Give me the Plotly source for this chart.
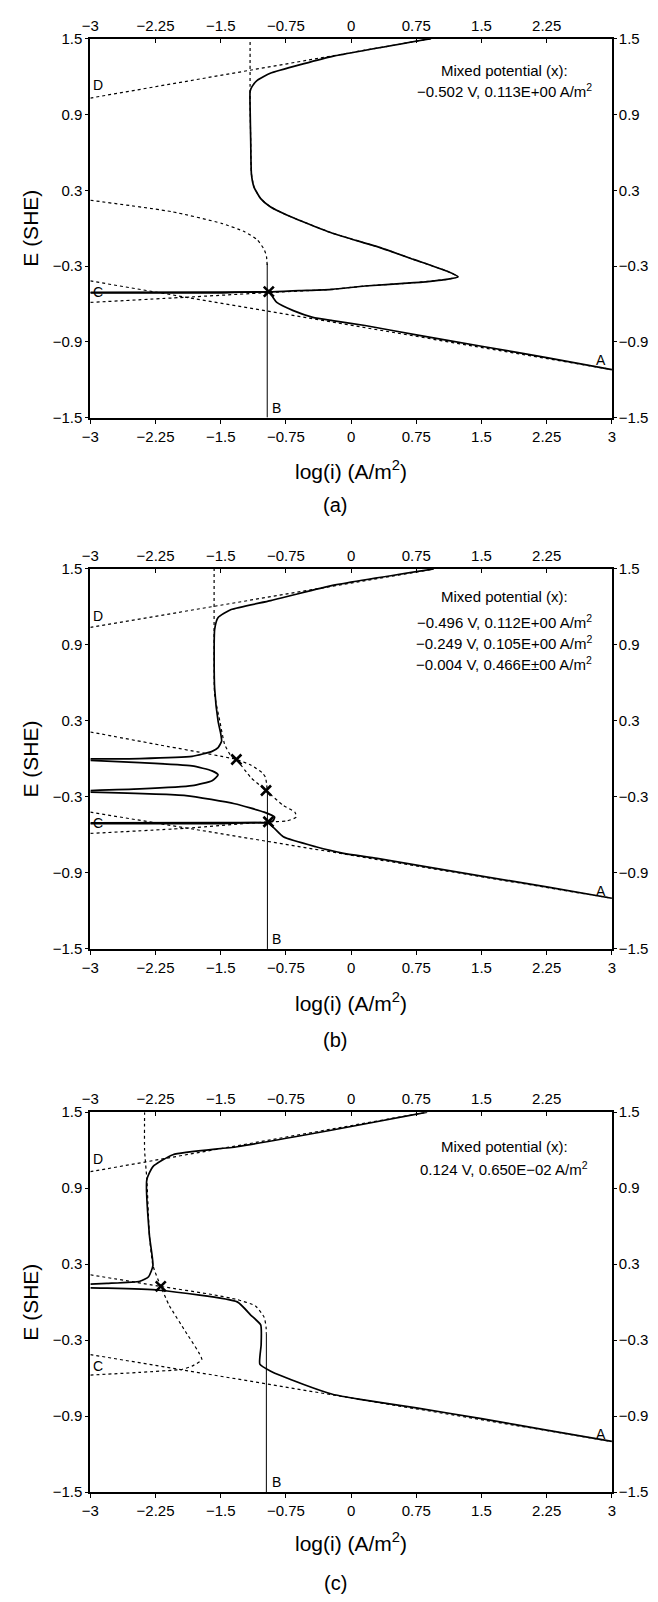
import plotly.graph_objects as go

W, H = 658, 1602

# ---------------- tick labels ----------------
x_tickvals = [-3, -2.25, -1.5, -0.75, 0, 0.75, 1.5, 2.25, 3]
x_ticktext = ["−3", "−2.25", "−1.5", "−0.75", "0", "0.75", "1.5", "2.25", "3"]
top_tickvals = [-3, -2.25, -1.5, -0.75, 0, 0.75, 1.5, 2.25]
top_ticktext = ["−3", "−2.25", "−1.5", "−0.75", "0", "0.75", "1.5", "2.25"]
y_tickvals = [-1.5, -0.9, -0.3, 0.3, 0.9, 1.5]
y_ticktext = ["−1.5", "−0.9", "−0.3", "0.3", "0.9", "1.5"]

captions = ["(a)", "(b)", "(c)"]

# ---------------- line A (cathodic Tafel), line D ----------------
a_A_x = [-3, 3];      a_A_y = [-0.418, -1.12]
b_A_x = [-3, 3];      b_A_y = [-0.42, -1.10]
c_A_x = [-3, 3];      c_A_y = [-0.414, -1.10]
a_D_x = [-3, 0.92];   a_D_y = [1.03, 1.5]
b_D_x = [-3, 0.95];   b_D_y = [1.039, 1.5]
c_D_x = [-3, 0.875];  c_D_y = [1.03, 1.5]

# ---------------- curve B (Tafel part, then limiting current) ----------------
a_B_x = [-3, -2.06, -1.49, -1.23, -1.08, -1.0, -0.974, -0.965]
a_B_y = [0.221, 0.13, 0.038, -0.027, -0.092, -0.17, -0.223, -0.3]
a_Blim_x = [-0.965, -0.965]; a_Blim_y = [-0.28, -1.5]

b_B_x = [-3, -2.2, -1.32, -1.15, -1.02, -0.985, -0.972, -0.963]
b_B_y = [0.213, 0.11, -0.004, -0.05, -0.11, -0.146, -0.2, -0.26]
b_Blim_x = [-0.963, -0.963]; b_Blim_y = [-0.26, -1.5]

c_B_x = [-3, -2.19, -1.6, -1.31, -1.1, -1.0, -0.978, -0.975]
c_B_y = [0.216, 0.124, 0.06, 0.02, -0.03, -0.12, -0.2, -0.25]
c_Blim_x = [-0.975, -0.975]; c_Blim_y = [-0.25, -1.5]

# ---------------- curve C (metal anodic, active-passive) ----------------
a_C_x = [-3, -1.9, -0.947, -0.214, 0.16, 0.725, 1.10, 1.23, 1.10, 0.725, 0.35, -0.026,
         -0.214, -0.553, -0.74, -0.93, -1.04, -1.117, -1.147, -1.155, -1.162, -1.162]
a_C_y = [-0.588, -0.547, -0.51, -0.484, -0.458, -0.432, -0.405, -0.385, -0.34, -0.249, -0.158, -0.08,
         -0.04, 0.051, 0.104, 0.169, 0.234, 0.325, 0.43, 0.69, 0.952, 1.5]

b_C_x = [-3, -1.9, -0.951, -0.74, -0.63, -0.647, -0.78, -0.979, -1.155, -1.32, -1.38,
         -1.455, -1.51, -1.57, -1.576, -1.576]
b_C_y = [-0.588, -0.547, -0.496, -0.49, -0.459, -0.42, -0.367, -0.249, -0.146, -0.004, 0.023,
         0.115, 0.297, 0.508, 0.8, 1.5]

c_C_x = [-3, -2.44, -1.94, -1.83, -1.718, -1.906, -2.095, -2.19, -2.28, -2.32, -2.35, -2.376, -2.376]
c_C_y = [-0.576, -0.555, -0.53, -0.505, -0.453, -0.232, -0.023, 0.124, 0.289, 0.523, 0.969, 1.2, 1.5]

# ---------------- total (net) polarization curve, solid ----------------
a_T1_x = [0.92, -0.214, -0.553, -0.93, -1.08, -1.14, -1.162, -1.162, -1.155, -1.147, -1.117, -1.04,
          -0.93, -0.74, -0.553, -0.214, -0.026, 0.35, 0.725, 1.10, 1.23, 1.10, 0.725, 0.16, -0.214,
          -0.6, -0.947, -1.5, -3]
a_T1_y = [1.5, 1.36, 1.30, 1.226, 1.17, 1.12, 1.083, 0.952, 0.69, 0.43, 0.325, 0.234,
          0.169, 0.104, 0.051, -0.04, -0.08, -0.158, -0.249, -0.34, -0.385, -0.405, -0.432, -0.458, -0.484,
          -0.495, -0.505, -0.507, -0.508]
a_T2_x = [-3, -1.5, -0.947, -0.855, -0.665, -0.44, -0.214, 0.16, 0.75, 1.5, 2.25, 3]
a_T2_y = [-0.512, -0.512, -0.51, -0.588, -0.653, -0.706, -0.732, -0.771, -0.845, -0.935, -1.025, -1.12]

b_T1_x = [0.95, -0.237, -0.925, -1.38, -1.53, -1.57, -1.576, -1.57, -1.53, -1.50, -1.49, -1.53,
          -1.6, -1.83, -2.43, -3]
b_T1_y = [1.5, 1.367, 1.25, 1.18, 1.117, 1.024, 0.8, 0.555, 0.297, 0.2, 0.14, 0.09,
          0.06, 0.02, 0.003, 0.0]
b_T2_x = [-3, -2.43, -1.83, -1.6, -1.53, -1.6, -1.83, -2.43, -3]
b_T2_y = [-0.012, -0.029, -0.055, -0.094, -0.125, -0.172, -0.211, -0.237, -0.25]
b_T3_x = [-3, -1.9, -1.34, -1.0, -0.88, -0.9, -0.951, -1.5, -3]
b_T3_y = [-0.262, -0.289, -0.354, -0.42, -0.459, -0.49, -0.5, -0.503, -0.505]
b_T4_x = [-3, -1.5, -0.951, -0.78, -0.406, -0.1, 0.3, 1.5, 2.25, 3]
b_T4_y = [-0.51, -0.51, -0.51, -0.615, -0.693, -0.743, -0.785, -0.925, -1.01, -1.10]

c_T1_x = [0.875, -0.214, -1.31, -2.05, -2.28, -2.35, -2.32, -2.28, -2.33, -2.43, -2.81, -3]
c_T1_y = [1.5, 1.359, 1.227, 1.164, 1.07, 0.969, 0.523, 0.289, 0.2, 0.165, 0.148, 0.142]
c_T2_x = [-3, -2.81, -2.21, -1.31, -1.155, -1.04, -1.035, -1.05, -0.93, -0.553, -0.214, 0.086,
          0.75, 1.5, 2.25, 3]
c_T2_y = [0.112, 0.11, 0.094, 0.002, -0.102, -0.18, -0.336, -0.49, -0.544, -0.648, -0.727, -0.766,
          -0.835, -0.92, -1.01, -1.10]

# ---------------- mixed potentials (x marks) ----------------
a_mix_logi = [-0.947];               a_mix_E = [-0.502]
b_mix_logi = [-0.951, -0.979, -1.32]; b_mix_E = [-0.496, -0.249, -0.004]
c_mix_logi = [-2.19];                c_mix_E = [0.124]

a_text = ["Mixed potential (x):", "−0.502 V, 0.113E+00 A/m<sup>2</sup>"]
b_text = ["Mixed potential (x):", "−0.496 V, 0.112E+00 A/m<sup>2</sup>",
          "−0.249 V, 0.105E+00 A/m<sup>2</sup>", "−0.004 V, 0.466E±00 A/m<sup>2</sup>"]
c_text = ["Mixed potential (x):", "0.124 V, 0.650E−02 A/m<sup>2</sup>"]

curve_labels = ["A", "B", "C", "D"]

panels = [
    dict(A=(a_A_x, a_A_y), D=(a_D_x, a_D_y), B=(a_B_x, a_B_y), Blim=(a_Blim_x, a_Blim_y),
         C=(a_C_x, a_C_y), T=[(a_T1_x, a_T1_y), (a_T2_x, a_T2_y)], mix=(a_mix_logi, a_mix_E),
         text=a_text, text_y=[1.249, 1.093], top=30, bot=413, title_y=466, cap_y=501),
    dict(A=(b_A_x, b_A_y), D=(b_D_x, b_D_y), B=(b_B_x, b_B_y), Blim=(b_Blim_x, b_Blim_y),
         C=(b_C_x, b_C_y), T=[(b_T1_x, b_T1_y), (b_T2_x, b_T2_y), (b_T3_x, b_T3_y), (b_T4_x, b_T4_y)],
         mix=(b_mix_logi, b_mix_E), text=b_text, text_y=[1.281, 1.084, 0.922, 0.752],
         top=566, bot=950, title_y=1004, cap_y=1042),
    dict(A=(c_A_x, c_A_y), D=(c_D_x, c_D_y), B=(c_B_x, c_B_y), Blim=(c_Blim_x, c_Blim_y),
         C=(c_C_x, c_C_y), T=[(c_T1_x, c_T1_y), (c_T2_x, c_T2_y)], mix=(c_mix_logi, c_mix_E),
         text=c_text, text_y=[1.227, 1.057], top=1115, bot=1499, title_y=1549, cap_y=1591),
]

FONT = "Liberation Sans, Arial, Helvetica, sans-serif"
fig = go.Figure()
layout = {}
annotations = []
X0, X1 = 83, 615
xdom = [X0 / W, X1 / W]

dot = dict(color="black", width=1.2, dash="dot")
dot_s = dict(color="black", width=1.2, dash="dot", shape="spline", smoothing=0.5)
solid = dict(color="black", width=1.7, shape="spline", smoothing=0.5)
thin = dict(color="black", width=1)

for k, p in enumerate(panels):
    ib, it = 2 * k + 1, 2 * k + 2
    xb = "x" if ib == 1 else f"x{ib}"
    yl = "y" if ib == 1 else f"y{ib}"
    xt, yr = f"x{it}", f"y{it}"
    kxb = "xaxis" if ib == 1 else f"xaxis{ib}"
    kyl = "yaxis" if ib == 1 else f"yaxis{ib}"
    ydom = [1 - p["bot"] / H, 1 - p["top"] / H]
    base = dict(showline=True, linewidth=2, linecolor="black", showgrid=False, zeroline=False,
                tickfont=dict(size=15, family=FONT, color="black"), tickcolor="black",
                ticklen=4, tickwidth=1, tickmode="array")
    layout[kxb] = dict(base, domain=xdom, range=[-3, 3], anchor=yl, side="bottom",
                       tickvals=x_tickvals, ticktext=x_ticktext, ticks="outside")
    layout[f"xaxis{it}"] = dict(base, domain=xdom, range=[-3, 3], anchor=yl, overlaying=xb,
                                side="top", tickvals=top_tickvals, ticktext=top_ticktext,
                                ticks="inside")
    layout[kyl] = dict(base, domain=ydom, range=[-1.5, 1.5], anchor=xb, side="left",
                       tickvals=y_tickvals, ticktext=y_ticktext, ticks="outside", ticklen=3)
    layout[f"yaxis{it}"] = dict(base, domain=ydom, range=[-1.5, 1.5], anchor=xb, overlaying=yl,
                                side="right", tickvals=y_tickvals, ticktext=y_ticktext,
                                ticks="outside", ticklen=3, ticklabelstandoff=-1)

    def add(xy, line, mode="lines"):
        fig.add_trace(go.Scatter(x=xy[0], y=xy[1], mode=mode, line=line, xaxis=xb, yaxis=yl,
                                 showlegend=False, hoverinfo="skip", cliponaxis=True))

    add(p["A"], dot)
    add(p["D"], dot)
    add(p["B"], dot_s)
    add(p["Blim"], thin)
    add(p["C"], dot_s)
    for seg in p["T"]:
        add(seg, solid)
    fig.add_trace(go.Scatter(x=p["mix"][0], y=p["mix"][1], mode="markers", xaxis=xb, yaxis=yl,
                             marker=dict(symbol="x-thin", size=10, color="black",
                                         line=dict(width=2.6, color="black")),
                             showlegend=False, hoverinfo="skip"))
    # dummy trace so the top/right axes form a subplot
    fig.add_trace(go.Scatter(x=[None], y=[None], xaxis=xt, yaxis=yr, showlegend=False,
                             hoverinfo="skip"))

    # curve labels
    lab_pos = {"A": (2.87, -1.04, "center"), "B": (-0.93, -1.42, "left"),
               "C": (-2.99, -0.505, "left"), "D": (-2.99, 1.13, "left")}
    for lab in curve_labels:
        lx, ly, anc = lab_pos[lab]
        annotations.append(dict(x=lx, y=ly, xref=xb, yref=yl, text=lab, showarrow=False,
                                xanchor=anc, yanchor="middle",
                                font=dict(size=14, family=FONT, color="black")))
    # mixed potential text
    for t, ty in zip(p["text"], p["text_y"]):
        annotations.append(dict(x=1.76, y=ty, xref=xb, yref=yl, text=t, showarrow=False,
                                xanchor="center", yanchor="middle",
                                font=dict(size=15, family=FONT, color="black")))
    # axis titles and caption
    annotations.append(dict(x=349 / W, y=1 - p["title_y"] / H, xref="paper", yref="paper",
                            text="log(i) (A/m<sup>2</sup>)", showarrow=False,
                            xanchor="center", yanchor="middle",
                            font=dict(size=21, family=FONT, color="black")))
    annotations.append(dict(x=22 / W, y=1 - (p["top"] + p["bot"]) / 2 / H, xref="paper",
                            yref="paper", text="E (SHE)", textangle=-90, showarrow=False,
                            xanchor="center", yanchor="middle",
                            font=dict(size=21, family=FONT, color="black")))
    annotations.append(dict(x=333 / W, y=1 - p["cap_y"] / H, xref="paper", yref="paper",
                            text=captions[k], showarrow=False, xanchor="center",
                            yanchor="middle", font=dict(size=20, family=FONT, color="black")))

fig.update_layout(width=W, height=H, autosize=False, margin=dict(l=0, r=0, t=0, b=0),
                  plot_bgcolor="white", paper_bgcolor="white",
                  font=dict(family=FONT, color="black"), annotations=annotations, **layout)
fig.write_html("out.html", config={"displayModeBar": False, "staticPlot": True},
               post_script="document.body.style.margin='0';document.body.style.overflow='hidden';")
